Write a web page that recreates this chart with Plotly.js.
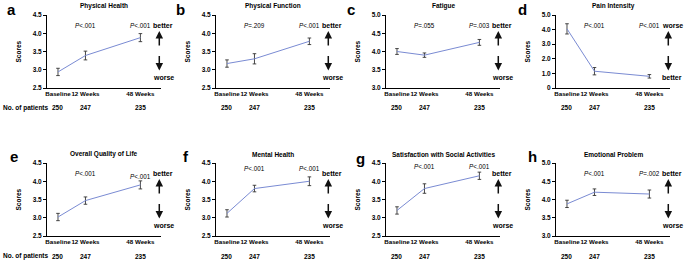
<!DOCTYPE html>
<html>
<head>
<meta charset="utf-8">
<script src="https://cdn.plot.ly/plotly-3.0.1.min.js"></script>
<style>html,body{margin:0;padding:0;background:#fff;}#chart{width:685px;height:261px;}</style>
</head>
<body>
<div id="chart"></div>
<script>
// ---- data ----
const xPos = [1, 2, 4];
const tickLabels = ['Baseline', '12 Weeks', '48 Weeks'];
const patients = [250, 247, 235];
const panelLetters = ['a', 'b', 'c', 'd', 'e', 'f', 'g', 'h'];
const panelTitles = ['Physical Health', 'Physical Function', 'Fatigue', 'Pain Intensity',
  'Overall Quality of Life', 'Mental Health', 'Satisfaction with Social Activities', 'Emotional Problem'];

const physicalHealth = [2.94, 3.39, 3.88];
const physicalHealthErr = [0.10, 0.12, 0.11];
const physicalFunction = [3.17, 3.30, 3.78];
const physicalFunctionErr = [0.10, 0.14, 0.09];
const fatigue = [4.00, 3.90, 4.25];
const fatigueErr = [0.08, 0.06, 0.08];
const painIntensity = [4.05, 1.15, 0.80];
const painIntensityErr = [0.35, 0.25, 0.12];
const overallQoL = [3.02, 3.47, 3.90];
const overallQoLErr = [0.10, 0.10, 0.11];
const mentalHealth = [3.12, 3.80, 4.00];
const mentalHealthErr = [0.10, 0.09, 0.12];
const socialActivities = [3.20, 3.80, 4.15];
const socialActivitiesErr = [0.10, 0.13, 0.10];
const emotionalProblem = [3.88, 4.20, 4.15];
const emotionalProblemErr = [0.10, 0.09, 0.11];

const pValues12 = ['<.001', '=.209', '=.055', '<.001', '<.001', '<.001', '<.001', '<.001'];
const pValues48 = ['<.001', '<.001', '=.003', '<.001', '<.001', '<.001', '<.001', '=.002'];

const yMin = [2.5, 2.5, 3.0, 0, 2.5, 2.5, 2.5, 3.0];
const yMax = [4.5, 4.5, 5.0, 5.0, 4.5, 4.5, 4.5, 5.0];
const yStep = [0.5, 0.5, 0.5, 1.0, 0.5, 0.5, 0.5, 0.5];
const higherIsBetter = [true, true, true, false, true, true, true, true];

const series = [physicalHealth, physicalFunction, fatigue, painIntensity,
  overallQoL, mentalHealth, socialActivities, emotionalProblem];
const seriesErr = [physicalHealthErr, physicalFunctionErr, fatigueErr, painIntensityErr,
  overallQoLErr, mentalHealthErr, socialActivitiesErr, emotionalProblemErr];

// ---- layout ----
const W = 685, H = 261;
const colLeft = [47, 216, 386, 556];
const plotW = 114;
const rowTop = [15, 163];
const plotH = 73;
const letterPos = [[11, 10], [180, 10], [351, 10], [522, 10], [14, 156], [186, 156], [360, 158], [532, 156]];
const p12y = [0.86, 0.86, 0.86, 0.86, 0.86, 0.92, 0.95, 0.86];
const p48y = [0.86, 0.86, 0.86, 0.86, 0.82, 0.92, 0.95, 0.86];

const FONT = 'Liberation Sans, Arial, sans-serif';
const lineColor = '#7a8bd3';
const traces = [];
const layout = {
  width: W, height: H,
  margin: {l: 0, r: 0, t: 0, b: 0},
  paper_bgcolor: '#fff', plot_bgcolor: '#fff',
  showlegend: false,
  font: {family: FONT, size: 7, color: '#000'},
  annotations: []
};

function ann(o) {
  return Object.assign({showarrow: false, xanchor: 'center', yanchor: 'middle'}, o);
}

for (let i = 0; i < 8; i++) {
  const row = Math.floor(i / 4), col = i % 4;
  const n = i + 1;
  const xa = 'x' + (n === 1 ? '' : n), ya = 'y' + (n === 1 ? '' : n);
  const xk = 'xaxis' + (n === 1 ? '' : n), yk = 'yaxis' + (n === 1 ? '' : n);
  const x0 = colLeft[col] / W, x1 = (colLeft[col] + plotW) / W;
  const y1 = 1 - rowTop[row] / H, y0 = 1 - (rowTop[row] + plotH) / H;

  traces.push({
    x: xPos, y: series[i], xaxis: xa, yaxis: ya,
    type: 'scatter', mode: 'lines',
    line: {color: lineColor, width: 1},
    error_y: {type: 'data', array: seriesErr[i], visible: true, color: '#333', thickness: 0.9, width: 1.8},
    hoverinfo: 'skip'
  });

  const tv = [], tt = [];
  for (let v = yMin[i]; v <= yMax[i] + 1e-9; v += yStep[i]) {
    tv.push(v);
    tt.push(v === 0 ? '0' : v.toFixed(1));
  }
  layout[xk] = {
    domain: [x0, x1], anchor: ya, range: [0.6, 4.75],
    tickvals: xPos, ticktext: tickLabels, ticks: '', tickangle: 0,
    showline: true, linecolor: '#000', linewidth: 1, showgrid: false, zeroline: false,
    tickfont: {family: FONT, size: 6.2, weight: 'bold', color: '#000'}, fixedrange: true
  };
  layout[yk] = {
    domain: [y0, y1], anchor: xa, range: [yMin[i], yMax[i]],
    tickvals: tv, ticktext: tt, ticks: 'outside', ticklen: 3, tickwidth: 1, tickcolor: '#000',
    showline: true, linecolor: '#000', linewidth: 1, showgrid: false, zeroline: false,
    tickfont: {family: FONT, size: 6.5, weight: 'bold', color: '#000'}, fixedrange: true
  };

  const A = layout.annotations;
  const xd = xa + ' domain', yd = ya + ' domain';
  // title
  A.push(ann({xref: xd, yref: yd, x: 0.5, y: 1, yanchor: 'bottom', yshift: 3,
    text: '<b>' + panelTitles[i] + '</b>', font: {size: 6.5}}));
  // panel letter
  A.push(ann({xref: 'paper', yref: 'paper', x: letterPos[i][0] / W, y: 1 - letterPos[i][1] / H,
    text: '<b>' + panelLetters[i] + '</b>', font: {size: 15}}));
  // Scores
  A.push(ann({xref: xd, yref: yd, x: 0, xshift: -29, y: 0.5,
    text: '<b>Scores</b>', textangle: -90, font: {size: 6.5}}));
  // P values
  A.push(ann({xref: xa, yref: yd, x: xPos[1], y: p12y[i], text: '<i>P</i>' + pValues12[i],
    font: {size: 6.3}}));
  A.push(ann({xref: xa, yref: yd, x: xPos[2], y: p48y[i], text: '<i>P</i>' + pValues48[i],
    font: {size: 6.3}}));
  // better / worse
  const topWord = higherIsBetter[i] ? 'better' : 'worse';
  const botWord = higherIsBetter[i] ? 'worse' : 'better';
  A.push(ann({xref: xd, yref: yd, x: 1.0, xshift: 2, y: 0.86, text: '<b>' + topWord + '</b>', font: {size: 7}}));
  A.push(ann({xref: xd, yref: yd, x: 1.0, xshift: 2, y: 0.15, text: '<b>' + botWord + '</b>', font: {size: 7}}));
  A.push({xref: xd, yref: yd, x: 0.985, y: 0.78, ax: 0, ay: 16, text: '',
    showarrow: true, arrowhead: 2, arrowsize: 1, arrowwidth: 1.5, arrowcolor: '#111', standoff: 0, startstandoff: 0});
  A.push({xref: xd, yref: yd, x: 0.985, y: 0.24, ax: 0, ay: -16, text: '',
    showarrow: true, arrowhead: 2, arrowsize: 1, arrowwidth: 1.5, arrowcolor: '#111', standoff: 0, startstandoff: 0});
  // patients
  const py = 1 - (rowTop[row] + plotH + 20) / H;
  for (let k = 0; k < 3; k++) {
    A.push(ann({xref: xa, yref: 'paper', x: xPos[k], y: py, text: '<b>' + patients[k] + '</b>',
      font: {size: 6.5}}));
  }
  if (col === 0) {
    A.push(ann({xref: 'paper', yref: 'paper', x: 1 / W, y: py, xanchor: 'left',
      text: '<b>No. of patients</b>', font: {size: 6.5}}));
  }
}

Plotly.newPlot('chart', traces, layout, {staticPlot: true, displayModeBar: false});
</script>
</body>
</html>
